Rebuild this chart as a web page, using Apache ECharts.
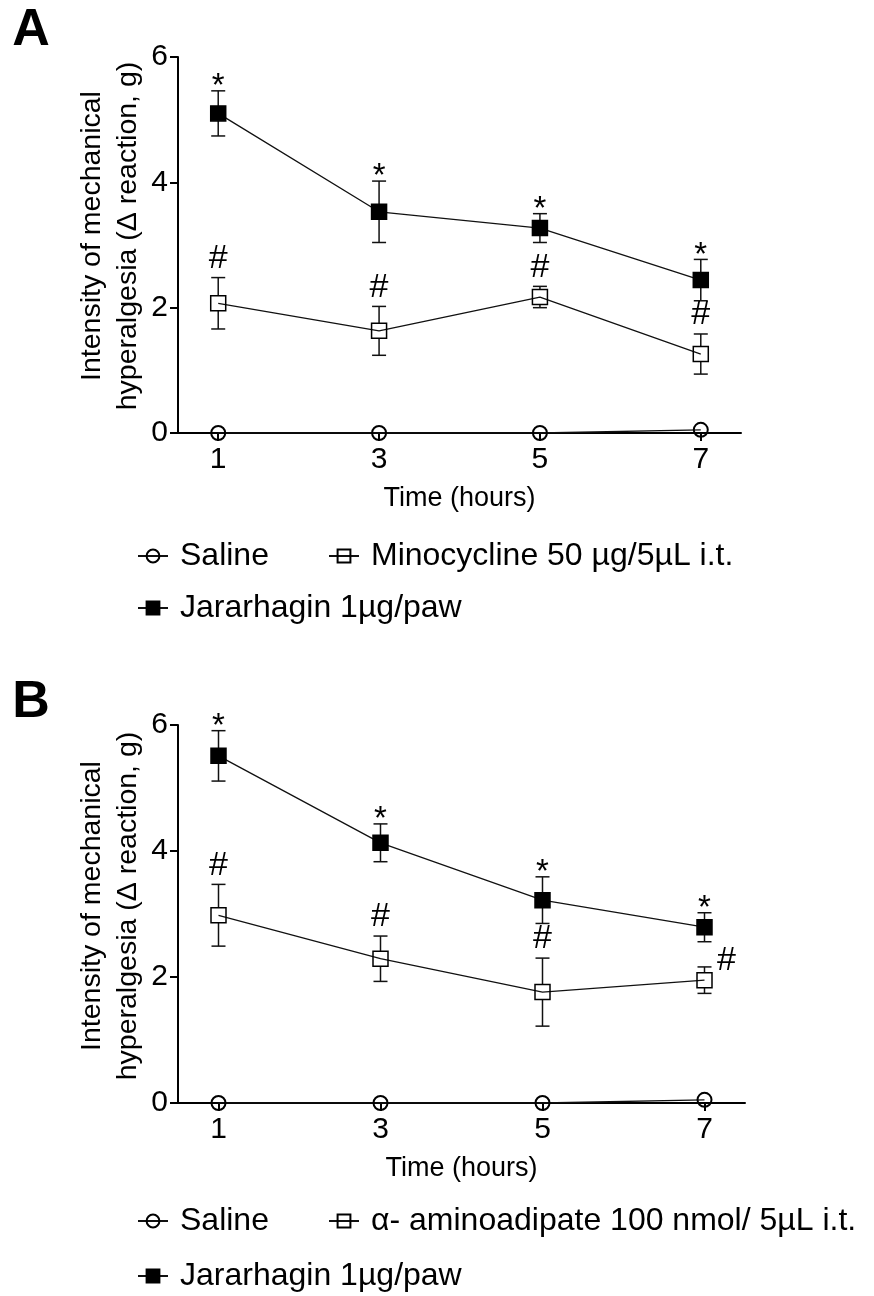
<!DOCTYPE html>
<html><head><meta charset="utf-8">
<script src="https://cdn.jsdelivr.net/npm/echarts@6/dist/echarts.min.js"></script>
<style>html,body{margin:0;padding:0;background:#fff}#c{width:874px;height:1296px}</style>
</head><body><div id="c"></div>
<script>
// ---------- data ----------
const timePoints = [1, 3, 5, 7];
const xTickLabels = [1, 3, 5, 7];
const yAxisTitle = ['Intensity of mechanical', 'hyperalgesia (Δ reaction, g)'];
const xAxisTitle = 'Time (hours)';

// Panel A
const namesA = ['Saline', 'Minocycline 50 µg/5µL i.t.', 'Jararhagin 1µg/paw'];
const salineA = [0, 0, 0, 0.05];
const minoA = [2.07, 1.63, 2.17, 1.26];
const minoASem = [0.41, 0.39, 0.17, 0.32];
const jarA = [5.10, 3.53, 3.27, 2.44];
const jarASem = [0.36, 0.49, 0.23, 0.33];
const jarAMarks = ['*', '*', '*', '*'];
const minoAMarks = ['#', '#', '#', '#'];
const minoAMarkSide = ['top', 'top', 'top', 'top'];

// Panel B
const namesB = ['Saline', 'α- aminoadipate 100 nmol/ 5µL i.t.', 'Jararhagin 1µg/paw'];
const salineB = [0, 0, 0, 0.05];
const aaB = [2.98, 2.29, 1.76, 1.95];
const aaBSem = [0.49, 0.36, 0.54, 0.21];
const jarB = [5.51, 4.13, 3.22, 2.79];
const jarBSem = [0.40, 0.30, 0.37, 0.23];
const jarBMarks = ['*', '*', '*', '*'];
const aaBMarks = ['#', '#', '#', '#'];
const aaBMarkSide = ['top', 'top', 'top', 'right'];

// ---------- helpers ----------
const FONT = '"Liberation Sans", Arial, Helvetica, sans-serif';
const INK = '#111';

function pairs(vals) { return timePoints.map((t, i) => [t, vals[i]]); }

function lineSeries(gi, name, vals, symbol, filled) {
  return {
    type: 'line', name, xAxisIndex: gi, yAxisIndex: gi, z: 3,
    data: pairs(vals), symbol, symbolSize: symbol === 'circle' ? 14 : 15, showAllSymbol: true,
    lineStyle: { color: INK, width: 1.3 },
    itemStyle: { color: filled ? '#000' : 'rgba(0,0,0,0)', borderColor: '#000', borderWidth: symbol === 'circle' ? 2 : 1.5 },
    emphasis: { disabled: true }, animation: false
  };
}

function errSeries(gi, means, sems) {
  return {
    type: 'custom', xAxisIndex: gi, yAxisIndex: gi, z: 2, silent: true, animation: false,
    data: timePoints.map((t, i) => [t, means[i], sems[i]]),
    renderItem(params, api) {
      const x = api.value(0), m = api.value(1), s = api.value(2);
      const pT = api.coord([x, m + s]), pM = api.coord([x, m]), pB = api.coord([x, m - s]);
      const half = 7.5, cap = 7;
      const st = { stroke: INK, lineWidth: 1.5 };
      const ch = [];
      if (pM[1] - half > pT[1]) ch.push({ type: 'line', shape: { x1: pT[0], y1: pT[1], x2: pT[0], y2: pM[1] - half }, style: st });
      if (pB[1] > pM[1] + half) ch.push({ type: 'line', shape: { x1: pB[0], y1: pM[1] + half, x2: pB[0], y2: pB[1] }, style: st });
      ch.push({ type: 'line', shape: { x1: pT[0] - cap, y1: pT[1], x2: pT[0] + cap, y2: pT[1] }, style: st });
      ch.push({ type: 'line', shape: { x1: pB[0] - cap, y1: pB[1], x2: pB[0] + cap, y2: pB[1] }, style: st });
      return { type: 'group', children: ch };
    }
  };
}

function markSeries(gi, means, sems, marks, sides) {
  return {
    type: 'custom', xAxisIndex: gi, yAxisIndex: gi, z: 5, silent: true, animation: false,
    data: timePoints.map((t, i) => [t, means[i] + sems[i], i]),
    renderItem(params, api) {
      const i = api.value(2);
      const p = api.coord([api.value(0), api.value(1)]);
      const mk = marks[i];
      const side = sides ? sides[i] : 'top';
      let x = p[0], y;
      if (mk === '*') { y = p[1] - 4; }
      else if (side === 'right') { x = p[0] + 22; y = p[1] - 6; }
      else { y = p[1] - 19; }
      return { type: 'text', x, y, style: { text: mk, fontSize: mk === '*' ? 33 : 34, fontFamily: FONT, fill: '#000', align: 'center', verticalAlign: 'middle' } };
    }
  };
}

function xAxisCfg(gi) {
  return {
    gridIndex: gi, type: 'value', min: 0.5, max: 7.5,
    axisLine: { onZero: false, lineStyle: { color: '#000', width: 2 } },
    axisTick: { show: true, length: 8, lineStyle: { color: '#000', width: 2 }, customValues: xTickLabels },
    axisLabel: { customValues: xTickLabels, fontSize: 30, color: '#000', fontFamily: FONT, margin: 12 },
    splitLine: { show: false },
    name: xAxisTitle, nameLocation: 'middle', nameGap: 52,
    nameTextStyle: { fontSize: 27, color: '#000', fontFamily: FONT }
  };
}
function yAxisCfg(gi) {
  return {
    gridIndex: gi, type: 'value', min: 0, max: 6, interval: 2,
    axisLine: { show: true, onZero: false, lineStyle: { color: '#000', width: 2 } },
    axisTick: { show: true, length: 8, lineStyle: { color: '#000', width: 2 } },
    axisLabel: { fontSize: 30, color: '#000', fontFamily: FONT, margin: 10 },
    splitLine: { show: false }
  };
}

function legendCfg(name, left, top) {
  return {
    data: [name], left, top, padding: 0, itemWidth: 30, itemHeight: 16,
    selectedMode: false,
    textStyle: { fontSize: 32, color: '#000', fontFamily: FONT, lineHeight: 36, padding: [0, 0, 0, 7] }
  };
}

const chart = echarts.init(document.getElementById('c'), null, { renderer: 'canvas' });
chart.setOption({
  animation: false,
  backgroundColor: '#fff',
  grid: [
    { left: 178, top: 57, width: 563, height: 376 },
    { left: 178, top: 725, width: 567, height: 378 }
  ],
  xAxis: [xAxisCfg(0), xAxisCfg(1)],
  yAxis: [yAxisCfg(0), yAxisCfg(1)],
  legend: [
    legendCfg(namesA[0], 137, 538),
    legendCfg(namesA[1], 328, 538),
    legendCfg(namesA[2], 137, 590),
    legendCfg(namesB[0], 137, 1203),
    legendCfg(namesB[1], 328, 1203),
    legendCfg(namesB[2], 137, 1258)
  ],
  graphic: [
    { type: 'text', x: 31, y: 31, style: { text: 'A', fontSize: 52, fontWeight: 'bold', fontFamily: FONT, fill: '#000', align: 'center', verticalAlign: 'middle' } },
    { type: 'text', x: 31, y: 703, style: { text: 'B', fontSize: 52, fontWeight: 'bold', fontFamily: FONT, fill: '#000', align: 'center', verticalAlign: 'middle' } },
    { type: 'text', x: 110, y: 236, rotation: Math.PI / 2, style: { text: yAxisTitle.join('\n'), fontSize: 28.5, lineHeight: 36, fontFamily: FONT, fill: '#000', align: 'center', verticalAlign: 'middle' } },
    { type: 'text', x: 110, y: 906, rotation: Math.PI / 2, style: { text: yAxisTitle.join('\n'), fontSize: 28.5, lineHeight: 36, fontFamily: FONT, fill: '#000', align: 'center', verticalAlign: 'middle' } }
  ],
  series: [
    errSeries(0, minoA, minoASem),
    errSeries(0, jarA, jarASem),
    lineSeries(0, namesA[0], salineA, 'circle', false),
    lineSeries(0, namesA[1], minoA, 'rect', false),
    lineSeries(0, namesA[2], jarA, 'rect', true),
    markSeries(0, jarA, jarASem, jarAMarks, null),
    markSeries(0, minoA, minoASem, minoAMarks, minoAMarkSide),

    errSeries(1, aaB, aaBSem),
    errSeries(1, jarB, jarBSem),
    lineSeries(1, namesB[0], salineB, 'circle', false),
    lineSeries(1, namesB[1], aaB, 'rect', false),
    lineSeries(1, namesB[2], jarB, 'rect', true),
    markSeries(1, jarB, jarBSem, jarBMarks, null),
    markSeries(1, aaB, aaBSem, aaBMarks, aaBMarkSide)
  ]
});
</script></body></html>
